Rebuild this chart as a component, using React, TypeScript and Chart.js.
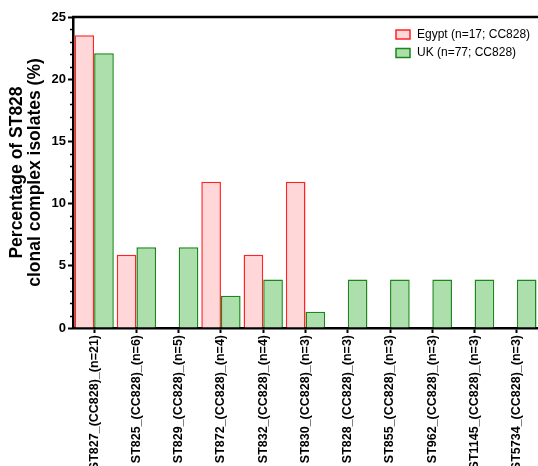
import React, { useEffect, useRef } from "react";
import { Chart, registerables } from "chart.js";

Chart.register(...registerables);

const categories = [
  "ST827_(CC828)_(n=21)",
  "ST825_(CC828)_(n=6)",
  "ST829_(CC828)_(n=5)",
  "ST872_(CC828)_(n=4)",
  "ST832_(CC828)_(n=4)",
  "ST830_(CC828)_(n=3)",
  "ST828_(CC828)_(n=3)",
  "ST855_(CC828)_(n=3)",
  "ST962_(CC828)_(n=3)",
  "ST1145_(CC828)_(n=3)",
  "ST5734_(CC828)_(n=3)",
];
const egyptValues = [23.53, 5.88, 0, 11.76, 5.88, 11.76, 0, 0, 0, 0, 0];
const ukValues = [22.08, 6.49, 6.49, 2.6, 3.9, 1.3, 3.9, 3.9, 3.9, 3.9, 3.9];
const seriesLabels = ["Egypt (n=17; CC828)", "UK (n=77; CC828)"];
const yTitle = ["Percentage of ST828", "clonal complex isolates (%)"];

const EGYPT_FILL = "rgb(255,215,217)";
const EGYPT_BORDER = "rgb(255,35,35)";
const UK_FILL = "rgb(173,223,173)";
const UK_BORDER = "rgb(25,135,25)";
const FONT = "'Liberation Sans', Arial, Helvetica, sans-serif";

const extrasPlugin = {
  id: "extras",
  afterDraw(chart: any) {
    const { ctx, chartArea } = chart;
    const y = chart.scales.y;
    ctx.save();
    // top border line
    ctx.strokeStyle = "#000";
    ctx.lineWidth = 2.5;
    ctx.beginPath();
    ctx.moveTo(chartArea.left - 1, chartArea.top);
    ctx.lineTo(chartArea.right, chartArea.top);
    ctx.stroke();
    // minor ticks on y axis
    ctx.lineWidth = 1.5;
    for (let v = 1; v < 25; v++) {
      if (v % 5 === 0) continue;
      const py = Math.round(y.getPixelForValue(v)) + 0.5;
      ctx.beginPath();
      ctx.moveTo(chartArea.left - 3, py);
      ctx.lineTo(chartArea.left, py);
      ctx.stroke();
    }
    // legend
    const fills = [EGYPT_FILL, UK_FILL];
    const borders = [EGYPT_BORDER, UK_BORDER];
    const bx = chartArea.right - 142;
    ctx.font = `12px ${FONT}`;
    ctx.textBaseline = "middle";
    ctx.textAlign = "left";
    seriesLabels.forEach((lab, i) => {
      const cy = 34.5 + i * 18.5;
      ctx.fillStyle = fills[i];
      ctx.fillRect(bx, cy - 4.5, 14, 9);
      ctx.strokeStyle = borders[i];
      ctx.lineWidth = 1.5;
      ctx.strokeRect(bx, cy - 4.5, 14, 9);
      ctx.fillStyle = "#000";
      ctx.fillText(lab, bx + 21, cy);
    });
    ctx.restore();
  },
};

export default function App() {
  const ref = useRef<HTMLCanvasElement | null>(null);
  useEffect(() => {
    if (!ref.current) return;
    const chart = new Chart(ref.current, {
      type: "bar",
      data: {
        labels: categories,
        datasets: [
          {
            label: seriesLabels[0],
            data: egyptValues,
            backgroundColor: EGYPT_FILL,
            borderColor: EGYPT_BORDER,
            borderWidth: 1.5,
            borderSkipped: "bottom",
            categoryPercentage: 0.93,
            barPercentage: 1,
          },
          {
            label: seriesLabels[1],
            data: ukValues,
            backgroundColor: UK_FILL,
            borderColor: UK_BORDER,
            borderWidth: 1.5,
            borderSkipped: "bottom",
            categoryPercentage: 0.93,
            barPercentage: 1,
          },
        ],
      },
      options: {
        responsive: false,
        animation: false,
        devicePixelRatio: 1,
        layout: { padding: { top: 17, right: 0, left: 0, bottom: 0 } },
        plugins: {
          legend: { display: false },
          tooltip: { enabled: false },
        },
        scales: {
          x: {
            offset: true,
            grid: {
              offset: false,
              drawOnChartArea: false,
              drawTicks: true,
              tickLength: 5,
              tickWidth: 2,
              color: "#000",
            },
            border: { display: true, color: "#000", width: 2.5 },
            ticks: {
              autoSkip: false,
              maxRotation: 90,
              minRotation: 90,
              padding: 2,
              color: "#000",
              font: { family: FONT, size: 12.5, weight: "bold" },
            },
            afterFit: (s: any) => {
              s.height = 138;
            },
          },
          y: {
            min: 0,
            max: 25,
            grid: {
              drawOnChartArea: false,
              drawTicks: true,
              tickLength: 5,
              tickWidth: 2,
              color: "#000",
            },
            border: { display: true, color: "#000", width: 2.5 },
            ticks: {
              stepSize: 5,
              padding: 2,
              color: "#000",
              font: { family: FONT, size: 13, weight: "bold" },
            },
            title: {
              display: true,
              text: yTitle,
              color: "#000",
              padding: { top: 8.5, bottom: 0 },
              font: { family: FONT, size: 17.5, weight: "bold", lineHeight: 1.03 },
            },
            afterFit: (s: any) => {
              s.width = 73;
            },
          },
        },
      },
      plugins: [extrasPlugin],
    } as any);
    return () => chart.destroy();
  }, []);
  return (
    <div style={{ position: "absolute", left: 0, top: 0, width: 538, height: 466 }}>
      <canvas ref={ref} width={538} height={466} />
    </div>
  );
}
